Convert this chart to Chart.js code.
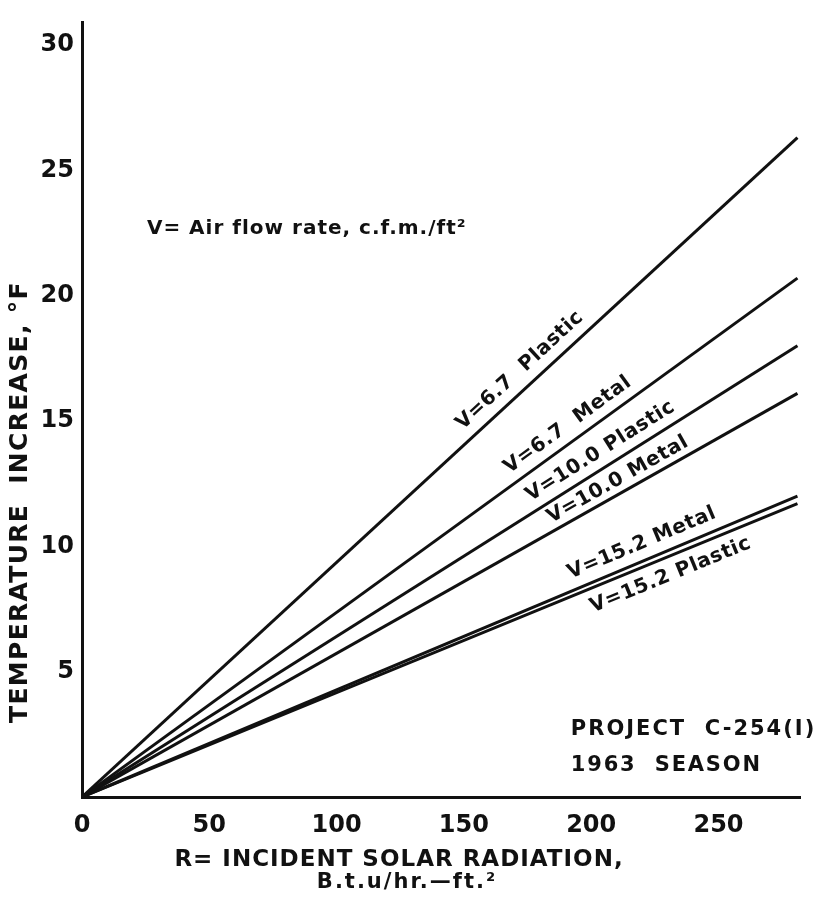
<!DOCTYPE html>
<html>
<head>
<meta charset="utf-8">
<script src="https://cdn.jsdelivr.net/npm/chart.js@4.4.0/dist/chart.umd.min.js"></script>
<style>
  html, body { margin: 0; padding: 0; background: #fff; }
  #wrap { width: 818px; height: 903px; position: relative; }
</style>
</head>
<body>
<div id="wrap"><canvas id="chart"></canvas></div>
<script>
// ─── Data ────────────────────────────────────────────────────────────────────
// R = incident solar radiation (Btu/hr-ft2); every line runs from the origin
const R_VALUES     = [0, 281];
const V67_PLASTIC  = [0, 26.3];
const V67_METAL    = [0, 20.7];
const V100_PLASTIC = [0, 18.0];
const V100_METAL   = [0, 16.1];
const V152_METAL   = [0, 12.0];
const V152_PLASTIC = [0, 11.7];
const SERIES_NAMES = ["V=6.7  Plastic", "V=6.7  Metal", "V=10.0 Plastic", "V=10.0 Metal", "V=15.2 Metal", "V=15.2 Plastic"];
const X_TICKS      = [0, 50, 100, 150, 200, 250];
const Y_TICKS      = [5, 10, 15, 20, 25, 30];

// ─── Config ──────────────────────────────────────────────────────────────────
const INK       = "#111";
const FONT      = "'DejaVu Sans', sans-serif";
const LABEL_AT  = [176.5, 194.5, 207, 213, 222.5, 228.5];  // R where each line label sits
const LABEL_OFF = [-17, -16, -16, -13, -17, 18];            // px off the line (neg = above)

Chart.defaults.color       = INK;
Chart.defaults.font.family = FONT;

function pts(ys) { return R_VALUES.map((x, i) => ({ x, y: ys[i] })); }

// ─── Text overlays ───────────────────────────────────────────────────────────
const textPlugin = {
    id: "textOverlay",
    afterDatasetsDraw(chart) {
        const { ctx, scales: { x, y } } = chart;
        ctx.save();
        ctx.fillStyle = INK;
        ctx.textBaseline = "middle";

        // labels written along each line
        ctx.font = "bold 20px " + FONT;
        ctx.letterSpacing = "0.6px";
        ctx.textAlign = "center";
        chart.data.datasets.forEach((ds, i) => {
            const a = ds.data[0], b = ds.data[ds.data.length - 1];
            const x0 = x.getPixelForValue(a.x), y0 = y.getPixelForValue(a.y);
            const x1 = x.getPixelForValue(b.x), y1 = y.getPixelForValue(b.y);
            const ang = Math.atan2(y1 - y0, x1 - x0);
            const t = (LABEL_AT[i] - a.x) / (b.x - a.x);
            ctx.save();
            ctx.translate(x0 + (x1 - x0) * t, y0 + (y1 - y0) * t);
            ctx.rotate(ang);
            ctx.fillText(SERIES_NAMES[i], 0, LABEL_OFF[i]);
            ctx.restore();
        });

        // notes inside the plot
        ctx.textAlign = "left";
        ctx.font = "bold 20px " + FONT;
        ctx.letterSpacing = "1px";
        ctx.fillText("V= Air flow rate, c.f.m./ft²", x.getPixelForValue(25.5), y.getPixelForValue(22.65));

        ctx.font = "bold 21px " + FONT;
        ctx.letterSpacing = "2px";
        ctx.fillText("PROJECT  C-254(I)", x.getPixelForValue(192), y.getPixelForValue(2.7));
        ctx.letterSpacing = "1.8px";
        ctx.fillText("1963  SEASON", x.getPixelForValue(192), y.getPixelForValue(1.26));

        // axis titles
        ctx.textAlign = "center";
        ctx.font = "bold 23px " + FONT;
        ctx.letterSpacing = "1px";
        ctx.fillText("R= INCIDENT SOLAR RADIATION,", 399, 860);
        ctx.font = "bold 21px " + FONT;
        ctx.letterSpacing = "2px";
        ctx.fillText("B.t.u/hr.—ft.²", 407, 883);

        ctx.save();
        ctx.translate(20, 502);
        ctx.rotate(-Math.PI / 2);
        ctx.font = "bold 25px " + FONT;
        ctx.letterSpacing = "1.3px";
        ctx.fillText("TEMPERATURE  INCREASE, °F", 0, 0);
        ctx.restore();

        ctx.restore();
    }
};

// ─── Build chart ─────────────────────────────────────────────────────────────
const lineStyle = { borderColor: INK, borderWidth: 3, pointRadius: 0, tension: 0, fill: false };

new Chart(document.getElementById("chart").getContext("2d"), {
    type: "line",
    plugins: [textPlugin],
    data: {
        datasets: [V67_PLASTIC, V67_METAL, V100_PLASTIC, V100_METAL, V152_METAL, V152_PLASTIC]
            .map((ys, i) => ({ label: SERIES_NAMES[i], data: pts(ys), ...lineStyle }))
    },
    options: {
        responsive: true,
        maintainAspectRatio: false,
        animation: false,
        layout: { padding: { top: 12, right: 18, left: 0, bottom: 0 } },
        scales: {
            x: {
                type: "linear",
                min: 0, max: 282,
                afterBuildTicks: s => { s.ticks = X_TICKS.map(v => ({ value: v })); },
                afterFit: s => { s.height = 106; },
                ticks: { font: { size: 24, weight: "bold" }, padding: 14, color: INK, maxRotation: 0 },
                grid: { drawOnChartArea: false, drawTicks: false },
                border: { display: true, color: INK, width: 3 }
            },
            y: {
                min: 0, max: 30.9,
                afterBuildTicks: s => { s.ticks = Y_TICKS.map(v => ({ value: v })); },
                afterFit: s => { s.width = 82; },
                ticks: { font: { size: 24, weight: "bold" }, padding: 8, color: INK },
                grid: { drawOnChartArea: false, drawTicks: false },
                border: { display: true, color: INK, width: 3 }
            }
        },
        plugins: {
            legend: { display: false },
            tooltip: { enabled: false }
        }
    }
});
</script>
</body>
</html>
